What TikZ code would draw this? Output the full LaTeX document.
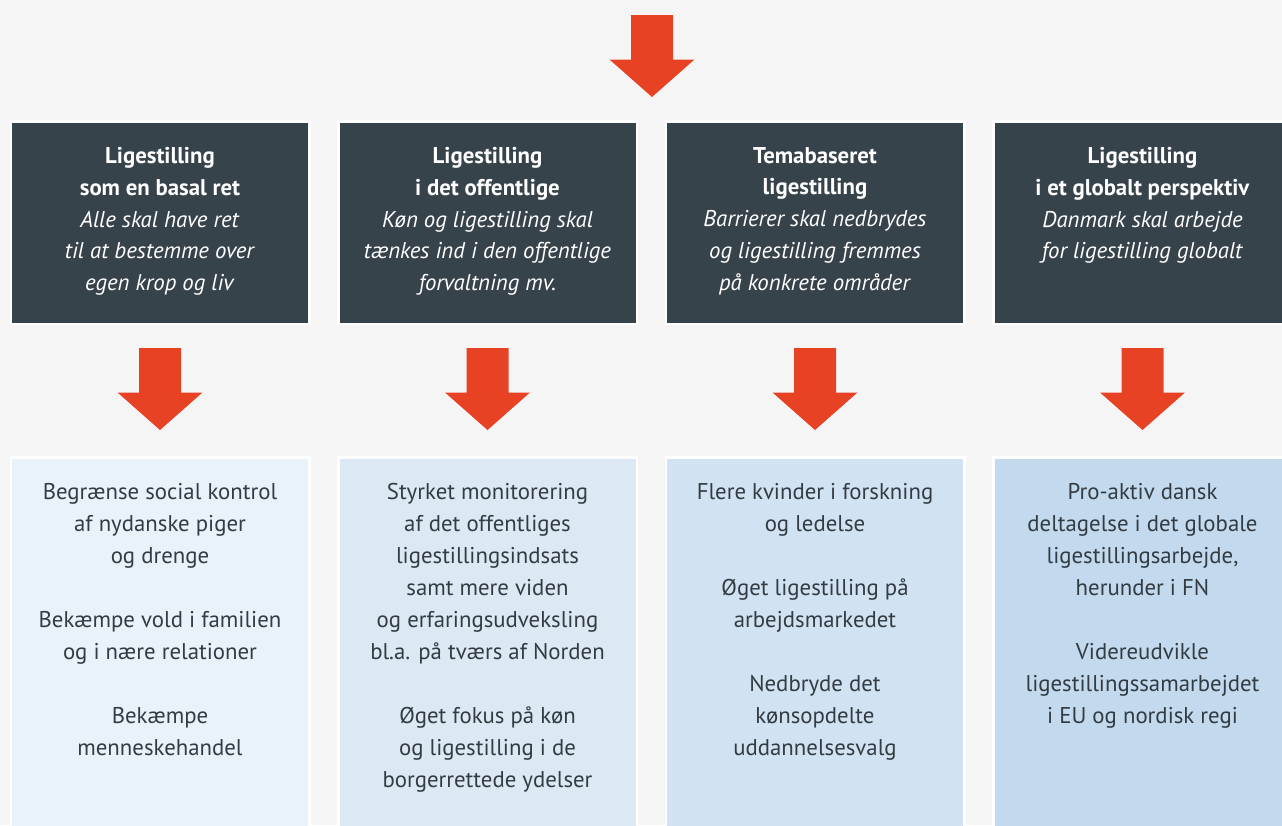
\documentclass[tikz,border=0pt]{standalone}
\usepackage{fontspec}
\setmainfont{PT Sans}
\usetikzlibrary{positioning}

\definecolor{bgGray}{HTML}{F5F5F5}
\definecolor{headDark}{HTML}{37434A}
\definecolor{arrowRed}{HTML}{E84225}
\definecolor{bodyText}{HTML}{333C42}
\definecolor{bodyA}{HTML}{E9F1F9}
\definecolor{bodyB}{HTML}{DCE8F4}
\definecolor{bodyC}{HTML}{D1E2F2}
\definecolor{bodyD}{HTML}{C3D9EE}

\tikzset{
  headbox/.style={draw=white, line width=2.5pt, fill=headDark, minimum width=298.5pt, minimum height=202.5pt, inner sep=0pt},
  bodybox/.style={draw=white, line width=2.5pt, minimum width=298.5pt, minimum height=442pt, inner sep=0pt},
  headtext/.style={align=center, inner sep=0pt, text=white, font=\fontsize{22.8}{31.8}\selectfont},
  bodytext/.style={align=center, inner sep=0pt, text=bodyText, font=\fontsize{22.8}{32}\selectfont},
  blockarrow/.style={fill=arrowRed}
}

\begin{document}
\begin{tikzpicture}[x=1pt, y=-1pt]
            \fill[bgGray] (0,0) rectangle (1282,825);
            \useasboundingbox (0,0) rectangle (1282,825);

            % top arrow
            \fill[blockarrow] (631,15) -- ++(42,0) -- ++(0,44.5) -- ++(21.5,0) -- ++(-42.5,37.5) -- ++(-42.5,-37.5) -- ++(21.5,0) -- cycle;

            % dark boxes
            \node[headbox] (head1) at (160,222.5) {};
            \node[headbox, right=26.5pt of head1] (head2) {};
            \node[headbox, right=26.5pt of head2] (head3) {};
            \node[headbox, right=26.5pt of head3] (head4) {};

            % light boxes
            \node[bodybox, fill=bodyA, below=131pt of head1] (body1) {};
            \node[bodybox, fill=bodyB, below=131pt of head2] (body2) {};
            \node[bodybox, fill=bodyC, below=131pt of head3] (body3) {};
            \node[bodybox, fill=bodyD, below=131pt of head4] (body4) {};

            % arrows between the rows
            \foreach \i in {1,...,4}
                \fill[blockarrow] ([shift={(-21,23)}]head\i.south) -- ++(42,0) -- ++(0,44.5) -- ++(21.5,0) -- ++(-42.5,37.5) -- ++(-42.5,-37.5) -- ++(21.5,0) -- cycle;

            \node[headtext, below=27pt of head1.north] (title1) {\textbf{Ligestilling}\\\textbf{som en basal ret}\\\textit{Alle skal have ret}\\\textit{til at bestemme over}\\\textit{egen krop og liv}};
            \node[headtext, below=27pt of head2.north] (title2) {\textbf{Ligestilling}\\\textbf{i det offentlige}\\\textit{Køn og ligestilling skal}\\\textit{tænkes ind i den offentlige}\\\textit{forvaltning mv.}};
            \node[headtext, below=27pt of head3.north] (title3) {\textbf{Temabaseret}\\\textbf{ligestilling}\\\textit{Barrierer skal nedbrydes}\\\textit{og ligestilling fremmes}\\\textit{på konkrete områder}};
            \node[headtext, below=27pt of head4.north] (title4) {\textbf{Ligestilling}\\\textbf{i et globalt perspektiv}\\\textit{Danmark skal arbejde}\\\textit{for ligestilling globalt}};

            \node[bodytext, below=27pt of body1.north] (items1) {Begrænse social kontrol\\af nydanske piger\\og drenge\\[32pt]Bekæmpe vold i familien\\og i nære relationer\\[32pt]Bekæmpe\\menneskehandel};
            \node[bodytext, below=27pt of body2.north] (items2) {Styrket monitorering\\af det offentliges\\ligestillingsindsats\\samt mere viden\\og erfaringsudveksling\\bl.a. på tværs af Norden\\[32pt]Øget fokus på køn\\og ligestilling i de\\borgerrettede ydelser};
            \node[bodytext, below=27pt of body3.north] (items3) {Flere kvinder i forskning\\og ledelse\\[32pt]Øget ligestilling på\\arbejdsmarkedet\\[32pt]Nedbryde det\\kønsopdelte\\uddannelsesvalg};
            \node[bodytext, below=27pt of body4.north] (items4) {Pro-aktiv dansk\\deltagelse i det globale\\ligestillingsarbejde,\\herunder i FN\\[32pt]Videreudvikle\\ligestillingssamarbejdet\\i EU og nordisk regi};
        \end{tikzpicture}
\end{document}
